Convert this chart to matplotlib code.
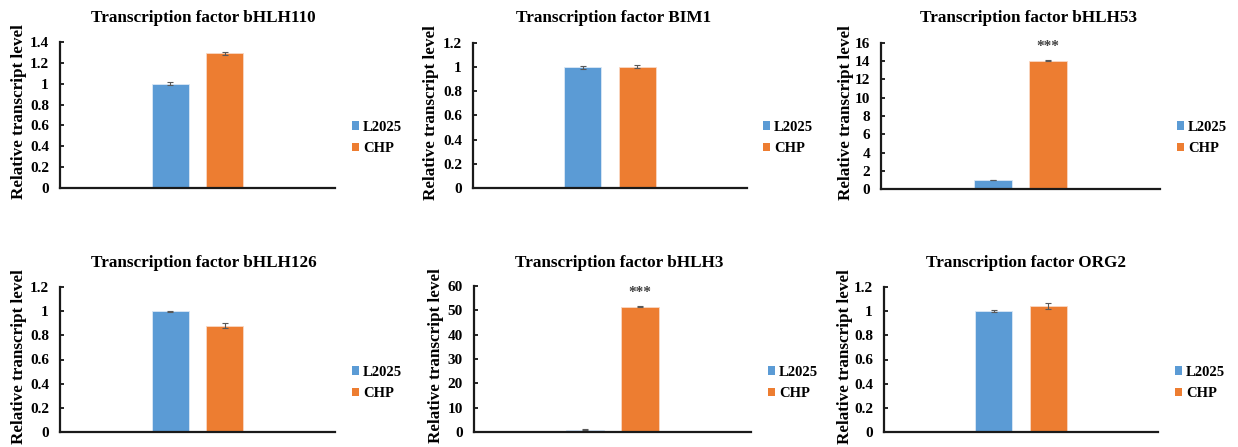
import matplotlib
matplotlib.use("Agg")
import matplotlib.pyplot as plt
from matplotlib.patches import Patch
from matplotlib.ticker import FuncFormatter
import numpy as np

plt.rcParams['font.family'] = ['Liberation Serif', 'DejaVu Serif']
plt.rcParams['font.weight'] = 'bold'

# qRT-PCR results, relative to L2025
genes = ["bHLH110", "BIM1", "bHLH53", "bHLH126", "bHLH3", "ORG2"]
l2025 = [1.0, 1.0, 1.0, 1.0, 1.0, 1.0]
l2025_err = [0.015, 0.012, 0.03, 0.005, 0.2, 0.01]
chp = [1.29, 1.005, 14.05, 0.88, 51.5, 1.04]
chp_err = [0.015, 0.01, 0.06, 0.02, 0.25, 0.025]
signif = ["", "", "***", "", "***", ""]
ymax = [1.4, 1.2, 16, 1.2, 60, 1.2]
ystep = [0.2, 0.2, 2, 0.2, 10, 0.2]
series = ["L2025", "CHP"]

BLUE = "#5B9BD5"
ORANGE = "#ED7D31"
W, H = 1238, 447

# panel boxes in pixels: left, top, right, bottom
boxes = [(60, 42, 335, 188), (473, 43, 747, 188), (881, 43, 1160, 189),
         (60, 287, 335, 432), (474, 286, 751, 432), (884, 287, 1158, 432)]
title_xy = [(203, 18), (614, 18), (1028, 18), (204, 263), (619, 263), (1026, 263)]
ylab_x = [19, 431, 846, 19, 436, 845]
legend_xy = [(352, 138), (763, 138), (1177, 138), (352, 383), (768, 383), (1175, 383)]

fig = plt.figure(figsize=(W / 100, H / 100), dpi=100)

for i, g in enumerate(genes):
    l, t, r, b = boxes[i]
    ax = fig.add_axes([l / W, (H - b) / H, (r - l) / W, (b - t) / H])
    ax.bar(-0.099, l2025[i], width=0.135, color=BLUE, edgecolor="#dbe8f5", linewidth=0.6,
           yerr=l2025_err[i], error_kw=dict(ecolor="#595959", elinewidth=0.8, capsize=2.5, capthick=0.8))
    ax.bar(0.099, chp[i], width=0.135, color=ORANGE, edgecolor="#f9d8c4", linewidth=0.6,
           yerr=chp_err[i], error_kw=dict(ecolor="#595959", elinewidth=0.8, capsize=2.5, capthick=0.8))
    if signif[i]:
        ax.text(0.099, chp[i] + ymax[i] * 0.05, signif[i], ha="center", va="bottom",
                fontsize=11, color="#404040")
    ax.set_xlim(-0.5, 0.5)
    ax.set_ylim(0, ymax[i])
    ax.set_yticks(np.arange(0, ymax[i] + ystep[i] / 2, ystep[i]))
    ax.yaxis.set_major_formatter(FuncFormatter(lambda v, p: f"{v:g}"))
    ax.set_xticks([])
    for s in ["top", "right"]:
        ax.spines[s].set_visible(False)
    for s in ["left", "bottom"]:
        ax.spines[s].set_linewidth(1.6)
        ax.spines[s].set_color("#1a1a1a")
    ax.tick_params(axis="y", direction="in", length=3, width=1.2, pad=8, labelsize=11)

    tx, ty = title_xy[i]
    fig.text(tx / W, 1 - ty / H, "Transcription factor " + g, ha="center", va="center",
             fontsize=12.3, fontweight="bold")
    fig.text(ylab_x[i] / W, 1 - ((t + b) / 2 - 3) / H, "Relative transcript level",
             rotation=90, ha="center", va="center", fontsize=12.3, fontweight="bold")

    handles = [Patch(facecolor=BLUE), Patch(facecolor=ORANGE)]
    lx, ly = legend_xy[i]
    ax.legend(handles, series, loc="center left", bbox_to_anchor=(lx / W, 1 - ly / H),
              bbox_transform=fig.transFigure, frameon=False, borderpad=0, borderaxespad=0,
              handlelength=0.5, handleheight=0.5, handletextpad=0.25, labelspacing=0.6,
              prop=dict(size=10.5, weight="bold"))

fig.savefig("out.png", dpi=100)
